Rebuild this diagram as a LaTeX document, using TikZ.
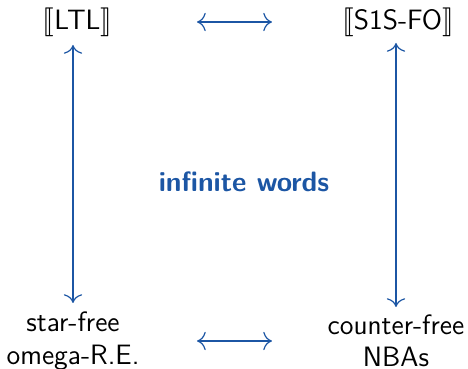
\documentclass[tikz,border=0pt]{standalone}
\usepackage{amsmath}
\usepackage{stmaryrd}
\usepackage{tikz}
\usetikzlibrary{arrows.meta}
\definecolor{struct}{RGB}{28, 86, 164}

\begin{document}
\begin{tikzpicture}[scale=0.5]
[every node/.style={inner sep=0pt}]
\useasboundingbox (0pt, 0pt) rectangle (468pt, -369pt);
\tikzset{lang/.style={inner sep=0pt, align=center, font=\sffamily\fontsize{14}{16.2}\selectfont}}
\tikzset{equiv/.style={{To[scale=1.5]}-{To[scale=1.5]}, line width=0.6pt, color=struct}}
\node (ltl) [lang] at (77.5pt, -22.0pt) {$\llbracket$LTL$\rrbracket$};
\node (s1s) [lang] at (398.0pt, -22.0pt) {$\llbracket$S1S-FO$\rrbracket$};
\node (sfre) [lang] at (73.0pt, -341.0pt) {star-free\\omega-R.E.};
\node (cfnba) [lang] at (396.0pt, -341.0pt) {counter-free\\NBAs};
\node (inf) [lang, font=\sffamily\bfseries\fontsize{14}{16.2}\selectfont, text=struct] at (244.0pt, -182.0pt) {infinite words};
\draw [equiv, shorten <=59.75pt, shorten >=63pt] (ltl.center) to (s1s.center);
\draw [equiv, shorten <=62pt, shorten >=62pt] (sfre.center) to (cfnba.center);
\draw [equiv, shorten <=19pt, shorten >=11.5pt] (sfre.center) to (sfre.center |- ltl.center);
\draw [equiv, shorten <=17pt, shorten >=10.5pt] (cfnba.center) to (cfnba.center |- s1s.center);
\end{tikzpicture}
\end{document}
